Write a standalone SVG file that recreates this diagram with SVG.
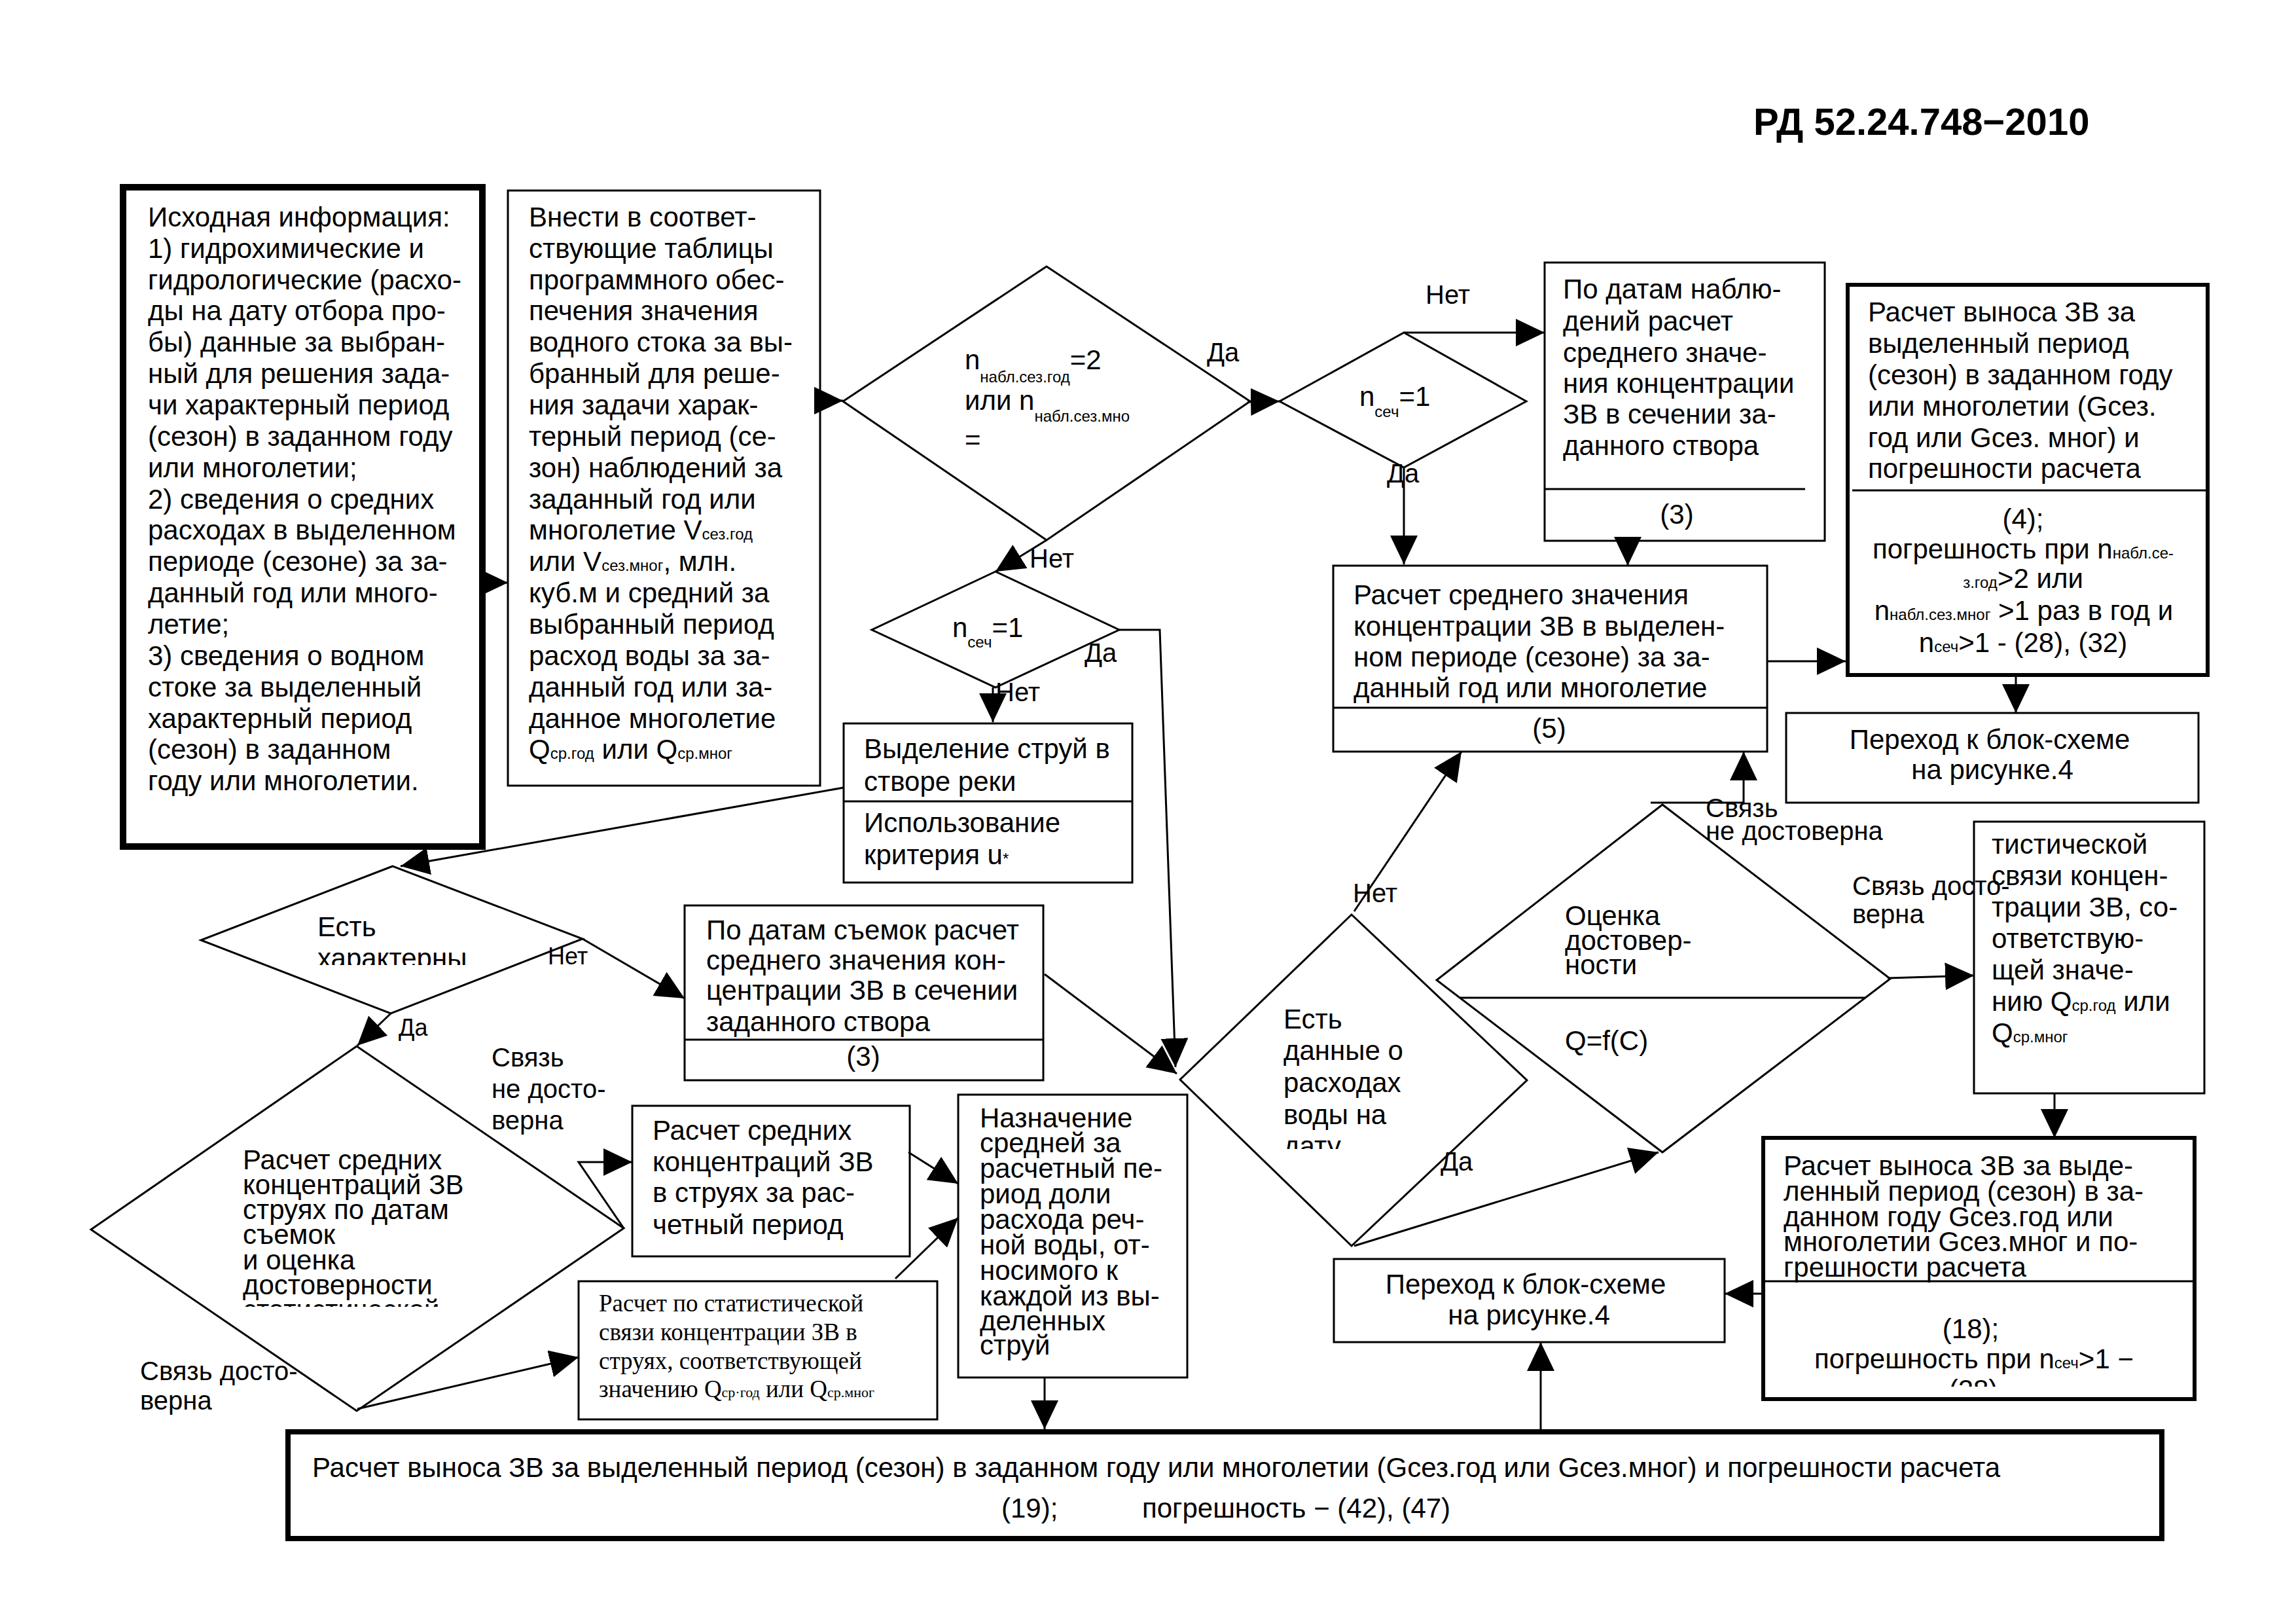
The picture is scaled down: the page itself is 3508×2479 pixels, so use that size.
<svg xmlns="http://www.w3.org/2000/svg" width="3508" height="2479" viewBox="0 0 3508 2479">
<defs>
<style>
.box{fill:#fff;stroke:#000;stroke-width:3}
.thk{fill:#fff;stroke:#000}
.ln{stroke:#000;stroke-width:3;fill:none}
.c{stroke:#000;stroke-width:3;fill:none;marker-end:url(#ah)}
.t{font-family:"Liberation Sans",Arial,sans-serif;font-size:42px;fill:#000}
.l{font-family:"Liberation Sans",Arial,sans-serif;font-size:40px;fill:#000}
.s{font-size:24px}
.sr{font-family:"Liberation Serif","Times New Roman",serif;font-size:37px;fill:#000}
.sr .s{font-size:22px}
.m{text-anchor:middle}
</style>
<marker id="ah" markerUnits="userSpaceOnUse" viewBox="0 0 44 42" markerWidth="44" markerHeight="42" refX="44" refY="21" orient="auto">
<path d="M0,0 L44,21 L0,42 Z" fill="#000"/>
</marker>
<clipPath id="cD5"><rect x="400" y="1380" width="420" height="94"/></clipPath>
<clipPath id="cD4"><rect x="1900" y="1500" width="300" height="255"/></clipPath>
<clipPath id="cD6"><rect x="300" y="1700" width="520" height="296"/></clipPath>
<clipPath id="cR"><rect x="2700" y="1990" width="640" height="128"/></clipPath>
</defs>
<rect width="3508" height="2479" fill="#fff"/>
<text x="2679" y="206" style="font-family:'Liberation Sans',Arial,sans-serif;font-size:58px;font-weight:bold">РД 52.24.748−2010</text>

<g id="nodeA">
<rect x="188" y="286" width="549" height="1007" class="thk" stroke-width="10"/>
<text class="t"><tspan x="226" y="346">Исходная информация:</tspan><tspan x="226" y="394">1) гидрохимические и</tspan><tspan x="226" y="442">гидрологические (расхо-</tspan><tspan x="226" y="489">ды на дату отбора про-</tspan><tspan x="226" y="537">бы) данные за выбран-</tspan><tspan x="226" y="585">ный  для решения зада-</tspan><tspan x="226" y="633">чи характерный период</tspan><tspan x="226" y="681">(сезон) в заданном году</tspan><tspan x="226" y="729">или многолетии;</tspan><tspan x="226" y="777">2) сведения о средних</tspan><tspan x="226" y="824">расходах в выделенном</tspan><tspan x="226" y="872">периоде (сезоне)  за за-</tspan><tspan x="226" y="920">данный год или много-</tspan><tspan x="226" y="968">летие;</tspan><tspan x="226" y="1016">3) сведения о водном</tspan><tspan x="226" y="1064">стоке за выделенный</tspan><tspan x="226" y="1112">характерный период</tspan><tspan x="226" y="1159">(сезон)  в заданном</tspan><tspan x="226" y="1207">году  или многолетии.</tspan></text>
</g>

<g id="nodeB">
<rect x="776" y="291" width="477" height="909" class="box"/>
<text class="t"><tspan x="808" y="346">Внести в соответ-</tspan><tspan x="808" y="394">ствующие таблицы</tspan><tspan x="808" y="442">программного обес-</tspan><tspan x="808" y="489">печения значения</tspan><tspan x="808" y="537">водного стока за вы-</tspan><tspan x="808" y="585">бранный  для реше-</tspan><tspan x="808" y="633">ния задачи харак-</tspan><tspan x="808" y="681">терный период (се-</tspan><tspan x="808" y="729">зон)  наблюдений за</tspan><tspan x="808" y="777">заданный год или</tspan><tspan x="808" y="824">многолетие V<tspan class="s">сез.год</tspan></tspan><tspan x="808" y="872">или V<tspan class="s">сез.мног</tspan>, млн.</tspan><tspan x="808" y="920">куб.м  и средний за</tspan><tspan x="808" y="968">выбранный период</tspan><tspan x="808" y="1016">расход воды за за-</tspan><tspan x="808" y="1064">данный год или за-</tspan><tspan x="808" y="1112">данное многолетие</tspan><tspan x="808" y="1159">Q<tspan class="s">ср.год</tspan> или Q<tspan class="s">ср.мног</tspan></tspan></text>
</g>

<g id="nodeD1">
<polygon points="1599,407 1288,613 1599,825 1910,613" class="box"/>
<text class="t" x="1474" y="564">n<tspan class="s" dy="20">набл.сез.год</tspan><tspan dy="-20">=2</tspan></text>
<text class="t" x="1474" y="626">или n<tspan class="s" dy="18">набл.сез.мно</tspan></text>
<text class="t" x="1474" y="686">=</text>
</g>

<g id="nodeD2">
<polygon points="2145,508 1955,613 2145,714 2332,613" class="box"/>
<text class="t" x="2077" y="620">n<tspan class="s" dy="17">сеч</tspan><tspan dy="-17">=1</tspan></text>
</g>

<g id="nodeE">
<rect x="2360" y="401" width="428" height="425" class="box"/>
<line x1="2360" y1="747" x2="2758" y2="747" class="ln"/>
<text class="t"><tspan x="2388" y="456">По датам наблю-</tspan><tspan x="2388" y="505">дений расчет</tspan><tspan x="2388" y="553">среднего значе-</tspan><tspan x="2388" y="600">ния концентрации</tspan><tspan x="2388" y="647">ЗВ в сечении за-</tspan><tspan x="2388" y="695">данного створа</tspan></text>
<text class="t m" x="2562" y="800">(3)</text>
</g>

<g id="nodeF">
<rect x="2823" y="435" width="550" height="596" class="thk" stroke-width="6"/>
<line x1="2830" y1="749" x2="3373" y2="749" class="ln"/>
<text class="t"><tspan x="2854" y="491">Расчет выноса ЗВ за</tspan><tspan x="2854" y="539">выделенный период</tspan><tspan x="2854" y="587">(сезон) в заданном году</tspan><tspan x="2854" y="635">или многолетии (Gсез.</tspan><tspan x="2854" y="683">год или Gсез. мног) и</tspan><tspan x="2854" y="730">погрешности расчета</tspan></text>
<text class="t m" x="3091" y="807">(4);</text>
<text class="t m" x="3091" y="853">погрешность при n<tspan class="s">набл.се-</tspan></text>
<text class="t m" x="3091" y="898"><tspan class="s">з.год</tspan>&gt;2 или</text>
<text class="t m" x="3092" y="947">n<tspan class="s">набл.сез.мног</tspan> &gt;1 раз в год и</text>
<text class="t m" x="3091" y="996">n<tspan class="s">сеч</tspan>&gt;1 -  (28), (32)</text>
</g>

<g id="nodeG">
<rect x="2037" y="864" width="663" height="284" class="box"/>
<line x1="2037" y1="1081" x2="2700" y2="1081" class="ln"/>
<text class="t"><tspan x="2068" y="923">Расчет среднего значения</tspan><tspan x="2068" y="971">концентрации ЗВ в выделен-</tspan><tspan x="2068" y="1018">ном  периоде (сезоне) за за-</tspan><tspan x="2068" y="1065">данный год или многолетие</tspan></text>
<text class="t m" x="2367" y="1127">(5)</text>
</g>

<g id="nodeH">
<rect x="2729" y="1089" width="630" height="137" class="box"/>
<text class="t m"><tspan x="3040" y="1144">Переход к блок-схеме</tspan><tspan x="3044" y="1190">на рисунке.4</tspan></text>
</g>

<g id="nodeD3">
<polygon points="1521,873 1332,962 1521,1050 1710,962" class="box"/>
<text class="t" x="1455" y="973">n<tspan class="s" dy="16">сеч</tspan><tspan dy="-16">=1</tspan></text>
</g>

<g id="nodeJ">
<rect x="1289" y="1105" width="441" height="243" class="box"/>
<line x1="1289" y1="1224" x2="1730" y2="1224" class="ln"/>
<text class="t"><tspan x="1320" y="1158">Выделение струй в</tspan><tspan x="1320" y="1208">створе реки</tspan><tspan x="1320" y="1271">Использование</tspan><tspan x="1320" y="1320">критерия u<tspan class="s">*</tspan></tspan></text>
</g>

<g id="nodeD5">
<polygon points="600,1323 307,1436 597,1548 890,1434" class="box"/>
<text class="t" clip-path="url(#cD5)"><tspan x="485" y="1430">Есть</tspan><tspan x="485" y="1478">характерны</tspan></text>
</g>

<g id="nodeL">
<rect x="1046" y="1383" width="548" height="267" class="box"/>
<line x1="1046" y1="1588" x2="1594" y2="1588" class="ln"/>
<text class="t"><tspan x="1079" y="1435">По датам съемок расчет</tspan><tspan x="1079" y="1481">среднего значения кон-</tspan><tspan x="1079" y="1527">центрации ЗВ в сечении</tspan><tspan x="1079" y="1575">заданного створа</tspan></text>
<text class="t m" x="1319" y="1628">(3)</text>
</g>

<g id="nodeD6">
<polygon points="545,1598 139,1878 545,2155 953,1876" class="box"/>
<text class="t" clip-path="url(#cD6)"><tspan x="371" y="1786">Расчет средних</tspan><tspan x="371" y="1824">концентраций ЗВ</tspan><tspan x="371" y="1862">струях по датам</tspan><tspan x="371" y="1900">съемок</tspan><tspan x="371" y="1939">и оценка</tspan><tspan x="371" y="1977">достоверности</tspan><tspan x="371" y="2015">статистической</tspan></text>
</g>

<g id="nodeM">
<rect x="966" y="1689" width="424" height="230" class="box"/>
<text class="t"><tspan x="997" y="1741">Расчет средних</tspan><tspan x="997" y="1789">концентраций ЗВ</tspan><tspan x="997" y="1836">в струях за рас-</tspan><tspan x="997" y="1885">четный период</tspan></text>
</g>

<g id="nodeN">
<rect x="884" y="1957" width="548" height="211" class="box"/>
<text class="sr"><tspan x="915" y="2003">Расчет по статистической</tspan><tspan x="915" y="2047">связи концентрации ЗВ в</tspan><tspan x="915" y="2091">струях, соответствующей</tspan><tspan x="915" y="2134">значению Q<tspan class="s">ср·год</tspan> или Q<tspan class="s">ср.мног</tspan></tspan></text>
</g>

<g id="nodeO">
<rect x="1464" y="1672" width="350" height="432" class="box"/>
<text class="t"><tspan x="1497" y="1722">Назначение</tspan><tspan x="1497" y="1760">средней за</tspan><tspan x="1497" y="1799">расчетный пе-</tspan><tspan x="1497" y="1838">риод доли</tspan><tspan x="1497" y="1877">расхода реч-</tspan><tspan x="1497" y="1916">ной воды, от-</tspan><tspan x="1497" y="1955">носимого к</tspan><tspan x="1497" y="1994">каждой из вы-</tspan><tspan x="1497" y="2032">деленных</tspan><tspan x="1497" y="2069">струй</tspan></text>
</g>

<g id="nodeD4">
<polygon points="2065,1397 1803,1649 2065,1903 2333,1650" class="box"/>
<text class="t" clip-path="url(#cD4)"><tspan x="1961" y="1571">Есть</tspan><tspan x="1961" y="1619">данные о</tspan><tspan x="1961" y="1668">расходах</tspan><tspan x="1961" y="1717">воды на</tspan><tspan x="1961" y="1765">дату</tspan></text>
</g>

<g id="nodeD7">
<polygon points="2540,1229 2195,1497 2540,1760 2888,1495" class="box"/>
<line x1="2230" y1="1524" x2="2850" y2="1524" class="ln"/>
<text class="t"><tspan x="2391" y="1413">Оценка</tspan><tspan x="2391" y="1451">достовер-</tspan><tspan x="2391" y="1488">ности</tspan></text>
<text class="t" x="2391" y="1604">Q=f(C)</text>
</g>

<g id="nodeQ">
<rect x="3016" y="1255" width="352" height="415" class="box"/>
<text class="t"><tspan x="3043" y="1304">тистической</tspan><tspan x="3043" y="1352">связи концен-</tspan><tspan x="3043" y="1400">трации ЗВ, со-</tspan><tspan x="3043" y="1448">ответствую-</tspan><tspan x="3043" y="1496">щей  значе-</tspan><tspan x="3043" y="1544">нию Q<tspan class="s">ср.год</tspan> или</tspan><tspan x="3043" y="1592">Q<tspan class="s">ср.мног</tspan></tspan></text>
</g>

<g id="nodeR">
<rect x="2694" y="1738" width="659" height="399" class="thk" stroke-width="6"/>
<line x1="2694" y1="1957" x2="3353" y2="1957" class="ln"/>
<text class="t"><tspan x="2725" y="1795">Расчет выноса ЗВ за выде-</tspan><tspan x="2725" y="1834">ленный период (сезон) в за-</tspan><tspan x="2725" y="1873">данном году Gсез.год или</tspan><tspan x="2725" y="1911">многолетии Gсез.мног  и по-</tspan><tspan x="2725" y="1950">грешности расчета</tspan></text>
<text class="t m" clip-path="url(#cR)"><tspan x="3011" y="2044">(18);</tspan><tspan x="3016" y="2090">погрешность  при n<tspan class="s">сеч</tspan>&gt;1 −</tspan><tspan x="3015" y="2137">(28)</tspan></text>
</g>

<g id="nodeP">
<rect x="2038" y="1923" width="597" height="127" class="box"/>
<text class="t m"><tspan x="2331" y="1976">Переход к блок-схеме</tspan><tspan x="2336" y="2023">на рисунке.4</tspan></text>
</g>

<g id="nodeBottom">
<rect x="440" y="2187" width="2863" height="163" class="thk" stroke-width="8"/>
<text class="t" x="477" y="2256">Расчет выноса ЗВ за выделенный период (сезон) в заданном году или многолетии (Gсез.год или Gсез.мног) и погрешности расчета</text>
<text class="t" x="1530" y="2318">(19);</text>
<text class="t" x="1745" y="2318">погрешность − (42), (47)</text>
</g>

<g id="connectors">
<line x1="737" y1="890" x2="776" y2="890" class="c"/>
<line x1="1253" y1="612" x2="1288" y2="612" class="c"/>
<line x1="1906" y1="614" x2="1955" y2="613" class="c"/>
<line x1="2145" y1="508" x2="2360" y2="508" class="c"/>
<line x1="2145" y1="714" x2="2145" y2="862" class="c"/>
<line x1="2487" y1="826" x2="2487" y2="864" class="c"/>
<line x1="2700" y1="1010" x2="2820" y2="1010" class="c"/>
<line x1="3080" y1="1034" x2="3080" y2="1089" class="c"/>
<line x1="1599" y1="825" x2="1521" y2="873" class="c"/>
<polyline points="1710,962 1772,962 1796,1630" class="c"/>
<line x1="1517" y1="1050" x2="1517" y2="1103" class="c"/>
<line x1="1289" y1="1203" x2="612" y2="1323" class="c"/>
<line x1="890" y1="1434" x2="1046" y2="1525" class="c"/>
<line x1="597" y1="1548" x2="546" y2="1597" class="c"/>
<line x1="1596" y1="1488" x2="1798" y2="1640" class="c"/>
<polyline points="953,1876 884,1775 966,1775" class="c"/>
<line x1="546" y1="2152" x2="884" y2="2073" class="c"/>
<line x1="1388" y1="1760" x2="1464" y2="1808" class="c"/>
<line x1="1368" y1="1953" x2="1464" y2="1860" class="c"/>
<line x1="1596" y1="2104" x2="1596" y2="2183" class="c"/>
<line x1="2354" y1="2183" x2="2354" y2="2050" class="c"/>
<line x1="2069" y1="1392" x2="2233" y2="1148" class="c"/>
<line x1="2069" y1="1903" x2="2534" y2="1760" class="c"/>
<polyline points="2522,1226 2664,1226 2664,1148" class="c"/>
<line x1="2884" y1="1494" x2="3016" y2="1490" class="c"/>
<line x1="3139" y1="1670" x2="3139" y2="1738" class="c"/>
<line x1="2694" y1="1976" x2="2635" y2="1976" class="c"/>
</g>

<g id="labels">
<text class="l" x="1844" y="552">Да</text>
<text class="l" x="1573" y="867">Нет</text>
<text class="l" x="2178" y="464">Нет</text>
<text class="l" x="2119" y="737">Да</text>
<text class="l" x="1657" y="1011">Да</text>
<text class="l" x="1521" y="1071">Нет</text>
<text class="l" x="837" y="1473" style="font-size:36px">Нет</text>
<text class="l" x="609" y="1582" style="font-size:36px">Да</text>
<text class="l"><tspan x="751" y="1629">Связь</tspan><tspan x="751" y="1677">не досто-</tspan><tspan x="751" y="1725">верна</tspan></text>
<text class="l"><tspan x="214" y="2108">Связь досто-</tspan><tspan x="214" y="2153">верна</tspan></text>
<text class="l" x="2067" y="1378">Нет</text>
<text class="l" x="2201" y="1788">Да</text>
<text class="l"><tspan x="2606" y="1248">Связь</tspan><tspan x="2606" y="1283">не достоверна</tspan></text>
<text class="l"><tspan x="2830" y="1367">Связь досто-</tspan><tspan x="2830" y="1410">верна</tspan></text>
</g>
</svg>
